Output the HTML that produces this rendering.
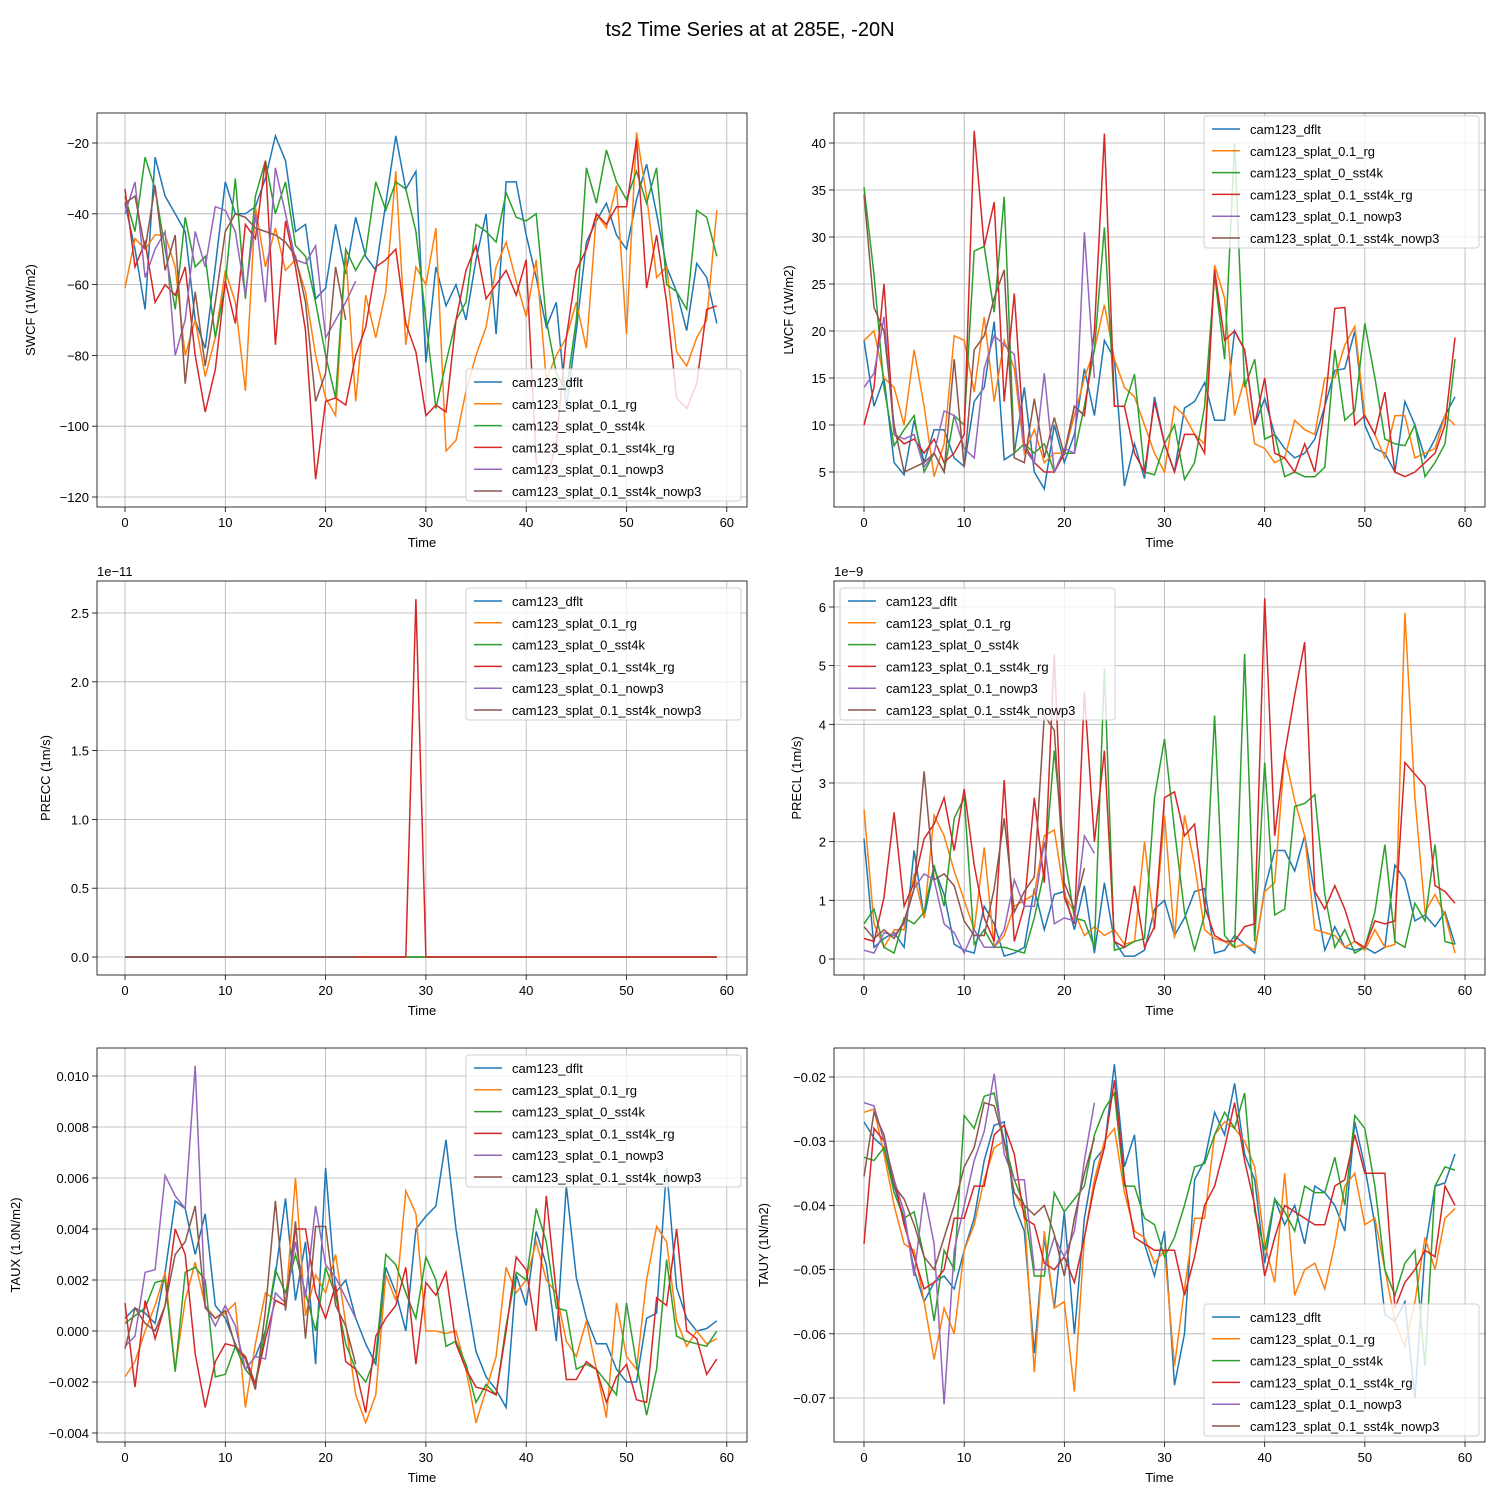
<!DOCTYPE html>
<html><head><meta charset="utf-8">
<style>
html,body{margin:0;padding:0;background:#fff;}
svg{display:block;font-family:"Liberation Sans","DejaVu Sans",sans-serif;}
</style></head>
<body>
<svg id="chart" width="1500" height="1500" viewBox="0 0 1500 1500" xmlns="http://www.w3.org/2000/svg">
<rect width="1500" height="1500" fill="#fff"/>
<text x="750" y="36" font-size="20" text-anchor="middle">ts2 Time Series at at 285E, -20N</text>
</svg>
<script>
const seriesNames = ["cam123_dflt","cam123_splat_0.1_rg","cam123_splat_0_sst4k","cam123_splat_0.1_sst4k_rg","cam123_splat_0.1_nowp3","cam123_splat_0.1_sst4k_nowp3"];
const seriesColors = ["#1f77b4","#ff7f0e","#2ca02c","#d62728","#9467bd","#8c564b"];
const xTicks = [0,10,20,30,40,50,60];

const swcfDflt=[-37,-50,-67,-24,-35,-40,-45,-70,-78,-55,-31,-40,-40,-38,-30,-18,-25,-45,-43,-64,-61,-43,-57,-41,-52,-56,-37,-18,-33,-28,-82,-55,-66,-60,-70,-53,-40,-74,-31,-31,-46,-58,-72,-65,-95,-73,-48,-42,-37,-46,-50,-36,-26,-40,-55,-62,-73,-54,-58,-71];
const swcfRg=[-61,-47,-50,-46,-46,-55,-80,-70,-86,-75,-56,-65,-90,-38,-55,-44,-56,-53,-62,-80,-92,-97,-51,-93,-63,-75,-62,-28,-77,-55,-60,-44,-107,-104,-90,-80,-72,-55,-48,-59,-69,-53,-87,-80,-75,-65,-78,-40,-44,-32,-74,-17,-35,-58,-55,-79,-83,-75,-70,-39];
const swcfSst4k=[-35,-45,-24,-33,-50,-67,-41,-55,-52,-75,-60,-30,-64,-35,-25,-40,-31,-49,-52,-65,-80,-92,-50,-56,-51,-31,-39,-31,-33,-45,-70,-95,-82,-70,-65,-43,-45,-48,-34,-41,-42,-40,-70,-85,-90,-70,-27,-37,-22,-31,-36,-28,-37,-27,-60,-62,-67,-39,-41,-52];
const swcfSst4kRg=[-33,-55,-48,-65,-60,-63,-55,-80,-96,-84,-59,-71,-43,-47,-25,-77,-42,-55,-73,-115,-93,-92,-94,-80,-72,-55,-53,-50,-71,-79,-97,-94,-96,-70,-56,-49,-64,-60,-56,-63,-53,-110,-115,-105,-75,-56,-50,-40,-43,-38,-38,-19,-61,-46,-65,-92,-95,-88,-67,-66];
const swcfNowp3=[-40,-31,-58,-50,-45,-80,-70,-45,-55,-38,-39,-45,-63,-40,-65,-27,-40,-53,-54,-49,-75,-70,-65,-59];
const swcfSst4kNowp3=[-37,-35,-50,-32,-56,-46,-88,-62,-83,-65,-45,-40,-41,-44,-45,-46,-48,-52,-65,-93,-85,-55,-70];

const lwcfDflt=[19,12,15,6,4.7,10.5,6,9.5,9.5,6.5,5.6,12.5,14,21,6.3,7,14,5,3.2,10,6,9,16,11,19,17,3.5,8,4.3,13,8,5,11.8,12.5,14.5,10.5,10.5,20,18,10,12.8,9,7.5,6.5,7,8.5,12,15.8,16,20,10,7.5,7,5,12.5,10,6.5,8.5,11,13];
const lwcfRg=[19,20,15,14,10,18,12,4.5,8,19.5,19,13.5,21.5,12.5,19,16,7,9.5,6,7,7,11,15,18,22.8,17,14,13,10,7,5,12,11,9,8,27,23.5,11,15,8,7.5,6,6.5,10.5,9.5,9,15,15,18.5,20.5,11,9,6.5,11,11,6.5,7,7.5,11,10];
const lwcfSst4k=[35.3,26,14,7.8,9.5,11,5,7,5,11,10,28.5,29,22,34.3,7,8,7,8,5,7,7,12,18,31,12,12,15.4,5,4.7,8,10,4.2,6,12,26,17,40,14,17,8.5,9,4.5,5,4.5,4.5,5.5,18,10.5,11.5,20.8,15,8.5,8,7.8,10,4.5,6,8,17];
const lwcfSst4kRg=[10,14,25,9,8,8.5,7,8.5,6,7,9,41.3,29,33.7,12.5,24,8,6,5,5,7,12,11,20,41,12,12,7,5,12.5,8,5,9,9,7,26.5,19,20,18,10,15,7,6.5,5,8,5,12,22.4,22.5,10,11,9,13.5,5,4.5,5,6,7,10,19.3];
const lwcfNowp3=[14,15.5,21.5,9,8.5,9,5.5,7,11.5,11,7.5,6.5,16,19.5,18.5,17.5,7.5,6,15.5,5,7.5,7,30.5,15];
const lwcfSst4kNowp3=[34.5,22.5,20,10,5,5.5,6,7,5,17,5.5,18,19.5,23.5,26.5,6.5,6,12.8,6.5,10.8,6.8,12,11];

const preccDflt=new Array(60).fill(0);
const preccRg=new Array(60).fill(0);
const preccSst4k=new Array(60).fill(0);
const preccSst4kRg=[0,0,0,0,0,0,0,0,0,0,0,0,0,0,0,0,0,0,0,0,0,0,0,0,0,0,0,0,0,2.6,0,0,0,0,0,0,0,0,0,0,0,0,0,0,0,0,0,0,0,0,0,0,0,0,0,0,0,0,0,0];
const preccNowp3=new Array(24).fill(0);
const preccSst4kNowp3=new Array(24).fill(0);

const preclDflt=[2.05,0.2,0.35,0.45,0.2,1.85,0.7,1.55,1.1,0.25,0.15,0.1,0.9,0.6,0.05,0.1,0.2,1.2,0.5,1.1,1.15,0.5,1.25,0.1,1.3,0.3,0.05,0.05,0.15,0.85,1,0.4,0.7,1.15,1.2,0.1,0.15,0.4,0.25,0.1,1.2,1.85,1.85,1.5,2.1,1.1,0.15,0.55,0.2,0.15,0.2,0.1,0.2,1.6,1.35,0.65,0.75,0.55,0.8,0.25];
const preclRg=[2.55,0.6,0.2,0.5,0.5,1.45,0.7,2.45,2.1,1.5,1,0.5,1.9,0.2,0.4,0.9,1,1.1,2.1,2.2,1.1,0.8,0.4,0.55,0.4,0.5,0.25,0.3,2,0.5,2.45,0.35,2.45,1.6,0.5,0.35,0.3,0.2,0.25,0.15,1.15,1.3,3.5,2.7,2.1,0.5,0.45,0.4,0.2,0.3,0.15,0.5,0.2,0.25,5.9,2.75,0.8,1.1,0.75,0.1];
const preclSst4k=[0.6,0.85,0.2,0.1,0.7,0.6,0.8,1.6,0.9,2.4,2.75,0.25,0.5,0.2,0.2,0.15,0.1,0.7,1.5,3.55,1.8,0.7,0.65,0.2,4.95,0.15,0.2,0.3,0.35,2.75,3.75,2.2,0.8,0.15,0.75,4.15,0.4,0.2,5.2,0.3,3.35,0.75,0.85,2.6,2.65,2.8,1.1,0.2,0.5,0.1,0.2,0.8,1.95,0.3,0.2,0.95,0.65,1.95,0.3,0.25];
const preclSst4kRg=[0.35,0.3,1.05,2.5,0.9,1.3,2.05,2.3,2.75,1.85,2.9,1.6,0.7,0.3,3.05,0.3,0.9,2.75,1.3,5.2,1.05,0.6,4.55,2,3.55,0.3,0.2,1.25,0.2,0.55,2.75,2.85,2.1,2.3,0.9,0.4,0.3,0.3,0.55,0.6,6.15,2.1,3.5,4.5,5.4,1.15,0.85,1.25,0.85,0.3,0.2,0.65,0.6,0.65,3.35,3.15,2.95,1.25,1.15,0.95];
const preclNowp3=[0.15,0.1,0.45,0.4,0.6,1.2,1.45,1.35,0.6,0.45,0.1,0.5,0.2,0.2,0.5,1.35,0.9,0.9,2,0.6,0.7,0.65,2.1,1.8];
const preclSst4kNowp3=[0.55,0.35,0.5,0.35,0.65,1.2,3.2,1.35,1.45,1.25,0.65,0.4,0.4,1.2,2.4,0.8,1.15,1.4,4.15,3.9,1.3,0.85,1.55];

const tauxDflt=[0.5,0.9,0.7,0.3,2.3,5.1,4.8,3,4.6,1,0.5,-0.5,-1.5,-1,0,2.2,5.2,1.2,3.5,-1.3,6.4,1.5,2,0.5,-0.5,-1.3,2.5,1.5,0,4,4.5,4.9,7.5,4,1.5,-0.8,-1.8,-2.3,-3,2.2,1,3.9,2.6,-0.4,5.7,2.1,0.5,-0.5,-0.5,-1.5,-2,-2,0.5,0.7,6.4,1.7,0.5,0,0.1,0.4];
const tauxRg=[-1.8,-1.2,0,1,2.3,-1.5,1.2,2.7,1,0.5,0.7,1.1,-3,-0.5,1.5,1.2,1,6,0.6,2.2,1.5,3,0.3,-2.5,-3.6,-2.5,2.2,1.2,5.5,4.6,0,0,-0.1,0,-1.5,-3.6,-2.3,-1,2.5,1.5,2,3.5,2,1.5,-0.4,-1,0.4,-1.5,-3.4,1.1,-1,-1.5,2,4.1,3.5,0.4,-0.6,0,-0.5,-0.3];
const tauxSst4k=[0.3,0.6,0.9,1.9,2,-1.6,2.3,2.5,2,-1.8,-1.7,-0.6,-1.5,-2,0,2.4,1.5,3,1.5,0,2.5,1.4,-0.5,-1.5,-2,-1,3,2.6,1.5,0.5,2.9,2,-0.6,-0.4,-1.3,-2.8,-2.1,-2.5,0.2,2.3,2,4.8,3.5,0.9,0.8,-1.5,-1.3,-1.5,-2,-2.5,1.1,-1.3,-3.3,-1.5,2.8,-0.2,-0.4,-0.5,-0.6,0];
const tauxSst4kRg=[1.1,-2.2,1.2,-0.3,1,4,3,-0.9,-3,-1.2,-0.5,-0.6,-1,-2.1,-0.3,1.2,1,4,4,1.5,0.5,1.8,-1.2,-1.5,-3.2,-0.2,0.5,1,2.5,-1.3,1.9,1.4,2.3,-0.5,-1.5,-2.2,-2.3,-2.5,0,2.9,2.4,0,5.3,1.5,-1.9,-1.9,-1.2,-1.5,-2.8,-1.8,-1.3,-2.7,-2.8,1.3,1,4,0,-0.3,-1.7,-1.1];
const tauxNowp3=[-0.6,-0.2,2.3,2.4,6.1,5.3,4.8,10.4,1,0.2,1,0.2,-1.5,-1,-1.1,1.5,1.1,3.5,1.3,4.9,2.6,2.1,1.3,0.5];
const tauxSst4kNowp3=[-0.7,0.9,0.3,0,1,3,3.5,4.9,0.9,0.5,0.8,-0.6,-1.1,-2.3,0.8,5.1,0.8,4.3,-0.3,4.1,4.1,1,0.2,-1.3];

const tauyDflt=[-0.027,-0.0295,-0.031,-0.037,-0.042,-0.05,-0.055,-0.052,-0.051,-0.053,-0.047,-0.042,-0.033,-0.0275,-0.027,-0.04,-0.044,-0.063,-0.045,-0.056,-0.041,-0.06,-0.042,-0.033,-0.031,-0.018,-0.034,-0.029,-0.046,-0.051,-0.044,-0.068,-0.06,-0.036,-0.033,-0.0255,-0.029,-0.021,-0.032,-0.036,-0.049,-0.039,-0.043,-0.04,-0.046,-0.037,-0.038,-0.04,-0.044,-0.027,-0.034,-0.043,-0.057,-0.058,-0.055,-0.07,-0.047,-0.037,-0.0365,-0.032];
const tauyRg=[-0.0255,-0.025,-0.032,-0.04,-0.046,-0.047,-0.055,-0.064,-0.056,-0.06,-0.047,-0.043,-0.036,-0.031,-0.03,-0.038,-0.041,-0.066,-0.044,-0.056,-0.055,-0.069,-0.045,-0.036,-0.03,-0.028,-0.038,-0.044,-0.045,-0.049,-0.047,-0.065,-0.053,-0.042,-0.042,-0.029,-0.027,-0.028,-0.03,-0.034,-0.046,-0.052,-0.035,-0.054,-0.05,-0.049,-0.053,-0.046,-0.037,-0.035,-0.043,-0.042,-0.05,-0.058,-0.062,-0.055,-0.045,-0.05,-0.042,-0.0405];
const tauySst4k=[-0.0325,-0.033,-0.031,-0.038,-0.042,-0.041,-0.048,-0.058,-0.047,-0.05,-0.026,-0.028,-0.023,-0.0225,-0.03,-0.036,-0.04,-0.051,-0.051,-0.038,-0.041,-0.039,-0.037,-0.029,-0.025,-0.0225,-0.037,-0.037,-0.042,-0.043,-0.048,-0.045,-0.04,-0.034,-0.0335,-0.029,-0.0255,-0.028,-0.0225,-0.041,-0.047,-0.039,-0.041,-0.044,-0.037,-0.038,-0.038,-0.0325,-0.04,-0.026,-0.028,-0.037,-0.05,-0.054,-0.049,-0.047,-0.065,-0.037,-0.034,-0.0345];
const tauySst4kRg=[-0.046,-0.028,-0.03,-0.036,-0.043,-0.048,-0.053,-0.052,-0.05,-0.042,-0.042,-0.037,-0.037,-0.029,-0.0275,-0.032,-0.042,-0.043,-0.049,-0.05,-0.048,-0.052,-0.045,-0.037,-0.031,-0.0205,-0.036,-0.045,-0.046,-0.047,-0.047,-0.047,-0.054,-0.048,-0.04,-0.037,-0.031,-0.024,-0.033,-0.04,-0.051,-0.045,-0.04,-0.041,-0.042,-0.043,-0.043,-0.037,-0.036,-0.029,-0.035,-0.035,-0.035,-0.056,-0.052,-0.05,-0.047,-0.048,-0.037,-0.04];
const tauyNowp3=[-0.024,-0.0245,-0.03,-0.036,-0.041,-0.051,-0.038,-0.046,-0.071,-0.047,-0.04,-0.033,-0.0285,-0.0195,-0.032,-0.036,-0.036,-0.05,-0.05,-0.045,-0.048,-0.044,-0.033,-0.024];
const tauySst4kNowp3=[-0.0355,-0.0255,-0.029,-0.037,-0.039,-0.043,-0.048,-0.05,-0.045,-0.04,-0.034,-0.031,-0.024,-0.0245,-0.03,-0.038,-0.04,-0.0415,-0.04,-0.0445,-0.051,-0.042,-0.035,-0.0295];

const swcfTicks=[-20,-40,-60,-80,-100,-120];
const lwcfTicks=[5,10,15,20,25,30,35,40];
const preccTicks=[0,0.5,1.0,1.5,2.0,2.5];
const preclTicks=[0,1,2,3,4,5,6];
const tauxTicks=[-4,-2,0,2,4,6,8,10];
const tauyTicks=[-0.07,-0.06,-0.05,-0.04,-0.03,-0.02];

const NS="http://www.w3.org/2000/svg";
const svg=document.getElementById('chart');
function mk(tag,attrs,parent){const e=document.createElementNS(NS,tag);for(const k in attrs)e.setAttribute(k,attrs[k]);(parent||svg).appendChild(e);return e;}

const panels=[
 {key:'swcf',label:'SWCF (1W/m2)',data:[swcfDflt,swcfRg,swcfSst4k,swcfSst4kRg,swcfNowp3,swcfSst4kNowp3],ticks:swcfTicks,fmt:v=>String(v).replace('-','\u2212'),
  L:97,T:113,W:650,H:394,x0:125,xs:10.03,y1v:-20,y1p:143,y2v:-120,y2p:497,yl:35,leg:[466,369]},
 {key:'lwcf',label:'LWCF (1W/m2)',data:[lwcfDflt,lwcfRg,lwcfSst4k,lwcfSst4kRg,lwcfNowp3,lwcfSst4kNowp3],ticks:lwcfTicks,fmt:v=>String(v),
  L:834,T:113,W:651,H:394,x0:864,xs:10.017,y1v:40,y1p:143,y2v:5,y2p:472,yl:793,leg:[1204,116]},
 {key:'precc',label:'PRECC (1m/s)',data:[preccDflt,preccRg,preccSst4k,preccSst4kRg,preccNowp3,preccSst4kNowp3],ticks:preccTicks,fmt:v=>v.toFixed(1),
  L:97,T:581,W:650,H:394,x0:125,xs:10.03,y1v:2.5,y1p:613,y2v:0,y2p:957,yl:50,leg:[466,588],off:'1e\u221211'},
 {key:'precl',label:'PRECL (1m/s)',data:[preclDflt,preclRg,preclSst4k,preclSst4kRg,preclNowp3,preclSst4kNowp3],ticks:preclTicks,fmt:v=>String(v),
  L:834,T:581,W:651,H:394,x0:864,xs:10.017,y1v:6,y1p:607,y2v:0,y2p:959,yl:801,leg:[840,588],off:'1e\u22129'},
 {key:'taux',label:'TAUX (1.0N/m2)',data:[tauxDflt,tauxRg,tauxSst4k,tauxSst4kRg,tauxNowp3,tauxSst4kNowp3],ticks:tauxTicks,fmt:v=>(v/1000).toFixed(3).replace('-','\u2212'),
  L:97,T:1048,W:650,H:394,x0:125,xs:10.03,y1v:10,y1p:1076,y2v:-4,y2p:1433,yl:20,leg:[466,1055]},
 {key:'tauy',label:'TAUY (1N/m2)',data:[tauyDflt,tauyRg,tauySst4k,tauySst4kRg,tauyNowp3,tauySst4kNowp3],ticks:tauyTicks,fmt:v=>v.toFixed(2).replace('-','\u2212'),
  L:834,T:1048,W:651,H:394,x0:864,xs:10.017,y1v:-0.02,y1p:1077,y2v:-0.07,y2p:1398,yl:768,leg:[1204,1304]}
];

panels.forEach(p=>{
  const g=mk('g',{});
  
  
  const xS=v=>p.x0+v*p.xs;
  const yS=v=>p.y1p+(v-p.y1v)*(p.y2p-p.y1p)/(p.y2v-p.y1v);
  const clipId='clip-'+p.key;
  const cp=mk('clipPath',{id:clipId},g);
  mk('rect',{x:p.L,y:p.T,width:p.W,height:p.H},cp);
  // grid + ticks
  xTicks.forEach(t=>{
    const x=xS(t);
    const gl=mk('line',{x1:x,x2:x,y1:p.T,y2:p.T+p.H,stroke:'#b0b0b0','stroke-width':0.8},g);
    
    
    mk('line',{x1:x,x2:x,y1:p.T+p.H,y2:p.T+p.H+5,stroke:'#000','stroke-width':0.8},g);
    const tl=mk('text',{x:x,y:p.T+p.H+20,'font-size':13,'text-anchor':'middle'},g);
    tl.textContent=String(t);
    
    
  });
  p.ticks.forEach(t=>{
    const y=yS(t);
    const gl=mk('line',{x1:p.L,x2:p.L+p.W,y1:y,y2:y,stroke:'#b0b0b0','stroke-width':0.8},g);
    
    
    mk('line',{x1:p.L-5,x2:p.L,y1:y,y2:y,stroke:'#000','stroke-width':0.8},g);
    const tl=mk('text',{x:p.L-8,y:y+5,'font-size':13,'text-anchor':'end'},g);
    tl.textContent=p.fmt(t);
    
    
  });
  // series
  p.data.forEach((arr,i)=>{
    const d=arr.map((v,j)=>(j?'L':'M')+xS(j).toFixed(1)+','+yS(v).toFixed(1)).join('');
    const pl=mk('path',{d:d,fill:'none',stroke:seriesColors[i],'stroke-width':1.5,'clip-path':'url(#'+clipId+')'},g);
    
    
  });
  // frame
  const fr=mk('rect',{x:p.L,y:p.T,width:p.W,height:p.H,fill:'none',stroke:'#000','stroke-width':0.8},g);
  
  
  // labels
  const xl=mk('text',{x:p.L+p.W/2,y:p.T+p.H+40,'font-size':13,'text-anchor':'middle'},g);
  xl.textContent='Time';
  
  
  const cy=p.T+p.H/2;
  const yl=mk('text',{x:p.yl,y:cy,'font-size':13,'text-anchor':'middle',transform:'rotate(-90 '+p.yl+' '+cy+')'},g);
  yl.textContent=p.label;
  
  
  if(p.off){
    const ot=mk('text',{x:p.L,y:p.T-5,'font-size':13},g);
    ot.textContent=p.off;
    
    
  }
  // legend
  const lg=mk('g',{},g);
  
  
  const [lx,ly]=p.leg;
  mk('rect',{x:lx,y:ly,width:275,height:132,rx:3,fill:'#fff','fill-opacity':0.8,stroke:'#d0d0d0','stroke-width':1},lg);
  seriesNames.forEach((n,i)=>{
    const yy=ly+13+i*21.8;
    const e=mk('g',{},lg);
    
    
    mk('line',{x1:lx+8,x2:lx+36,y1:yy,y2:yy,stroke:seriesColors[i],'stroke-width':1.5},e);
    const t=mk('text',{x:lx+46,y:yy+5,'font-size':13},e);
    t.textContent=n;
  });
});
</script>
</body></html>
